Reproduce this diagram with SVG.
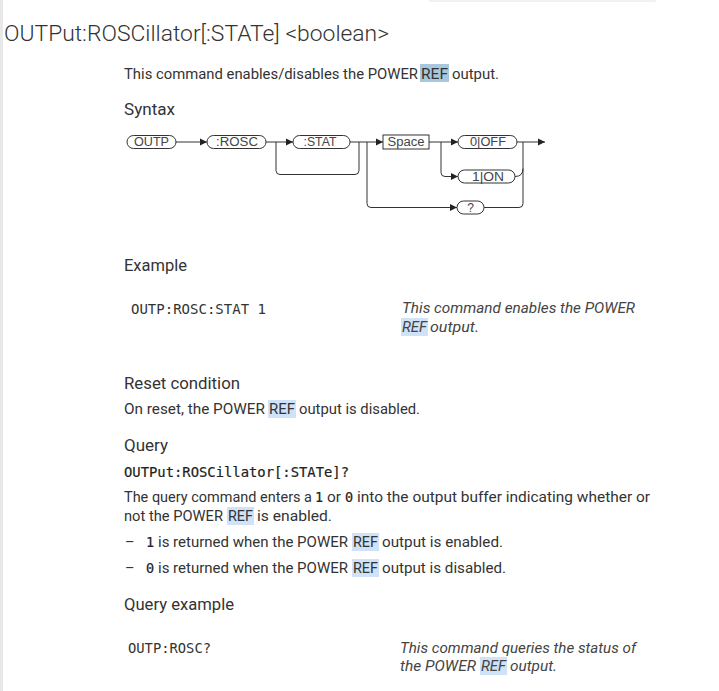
<svg xmlns="http://www.w3.org/2000/svg" width="719" height="691" viewBox="0 0 719 691">
<defs>
<style>
.t{font-family:Roboto,"Liberation Sans",sans-serif;font-size:14.5px;fill:#333}
.h{font-family:Roboto,"Liberation Sans",sans-serif;font-size:16px;fill:#333}
.i{font-family:Roboto,"Liberation Sans",sans-serif;font-size:14.5px;fill:#444;font-style:italic}
.m{font-family:"DejaVu Sans Mono","Liberation Mono",monospace;font-size:13.5px;fill:#333}
.mb{font-family:"DejaVu Sans Mono","Liberation Mono",monospace;font-size:13.5px;fill:#222;stroke:#222;stroke-width:0.2}
.hl{fill:#cfe2f7}
.hl1{fill:#a9c7dc}
.pill{fill:#fff;stroke:#333;stroke-width:1}
.pt{font-family:"Liberation Sans",Arial,sans-serif;font-size:12px;fill:#444;text-anchor:middle}
.ln{fill:none;stroke:#333;stroke-width:1}
</style>
<marker id="arr" markerWidth="7" markerHeight="8" refX="7" refY="4" orient="auto" markerUnits="userSpaceOnUse">
<path d="M0,0.5 L7,4 L0,7.5 Z" fill="#222"/>
</marker>
</defs>
<rect width="719" height="691" fill="#fff"/>
<rect x="0" y="0" width="3" height="691" fill="#e8e8e8"/>
<rect x="430" y="-10" width="225" height="11" fill="#fff" stroke="#e4e4e4" stroke-width="1"/>

<text class="h" x="4" y="41" style="font-size:22px;font-weight:300" textLength="385" lengthAdjust="spacingAndGlyphs">OUTPut:ROSCillator[:STATe] &lt;boolean&gt;</text>

<rect class="hl1" x="420" y="64" width="29" height="18"/>
<text class="t" x="124" y="79" textLength="294" lengthAdjust="spacingAndGlyphs">This command enables/disables the POWER</text>
<text class="t" x="421" y="79" textLength="27" lengthAdjust="spacingAndGlyphs">REF</text>
<text class="t" x="452" y="79" textLength="47" lengthAdjust="spacingAndGlyphs">output.</text>

<text class="h" x="124" y="115" textLength="51" lengthAdjust="spacingAndGlyphs">Syntax</text>

<g id="connectors">
<line class="ln" x1="176" y1="142" x2="207" y2="142" marker-end="url(#arr)"/>
<line class="ln" x1="266" y1="142" x2="293" y2="142" marker-end="url(#arr)"/>
<path class="ln" d="M276,142 V170.5 Q276,174.5 280,174.5 H355 Q359,174.5 359,170.5 V142"/>
<line class="ln" x1="350" y1="142" x2="383" y2="142" marker-end="url(#arr)"/>
<path class="ln" d="M367,142 V203.5 Q367,207.5 371,207.5 H457" marker-end="url(#arr)"/>
<path class="ln" d="M484,207.5 H519 Q523,207.5 523,203.5 V142"/>
<line class="ln" x1="429" y1="142" x2="458" y2="142" marker-end="url(#arr)"/>
<path class="ln" d="M441,142 V172.5 Q441,176.5 445,176.5 H458" marker-end="url(#arr)"/>
<path class="ln" d="M515,176.5 Q523,176.5 523,168.5"/>
<line class="ln" x1="517" y1="142" x2="545" y2="142" marker-end="url(#arr)"/>
</g>
<g id="node-outp"><rect class="pill" x="127" y="135.5" width="49" height="13" rx="6.5"/><text class="pt" x="151.5" y="146.3" textLength="35" lengthAdjust="spacingAndGlyphs">OUTP</text></g>
<g id="node-rosc"><rect class="pill" x="207" y="135.5" width="59" height="13" rx="6.5"/><text class="pt" x="237" y="146.3" textLength="42" lengthAdjust="spacingAndGlyphs">:ROSC</text></g>
<g id="node-stat"><rect class="pill" x="293" y="135.5" width="57" height="13" rx="6.5"/><text class="pt" x="320" y="146.3" textLength="33" lengthAdjust="spacingAndGlyphs">:STAT</text></g>
<g id="node-space"><rect class="pill" x="383" y="135" width="46" height="14"/><text class="pt" x="406" y="146.3" textLength="37" lengthAdjust="spacingAndGlyphs">Space</text></g>
<g id="node-off"><rect class="pill" x="458" y="135.5" width="59" height="13" rx="6.5"/><text class="pt" x="488" y="146.3" textLength="36" lengthAdjust="spacingAndGlyphs">0|OFF</text></g>
<g id="node-on"><rect class="pill" x="458" y="170" width="57" height="13" rx="6.5"/><text class="pt" x="488" y="180.8" textLength="32" lengthAdjust="spacingAndGlyphs">1|ON</text></g>
<g id="node-query"><rect class="pill" x="457" y="201" width="27" height="13" rx="6.5"/><text class="pt" x="470.5" y="211.8">?</text></g>

<text class="h" x="124" y="271" textLength="63" lengthAdjust="spacingAndGlyphs">Example</text>
<text class="m" x="131" y="314" textLength="135" lengthAdjust="spacingAndGlyphs">OUTP:ROSC:STAT 1</text>
<text class="i" x="402" y="313" textLength="233" lengthAdjust="spacingAndGlyphs">This command enables the POWER</text>
<rect class="hl" x="401" y="318" width="27" height="18"/>
<text class="i" x="402" y="332" textLength="25" lengthAdjust="spacingAndGlyphs">REF</text>
<text class="i" x="430" y="332" textLength="49" lengthAdjust="spacingAndGlyphs">output.</text>

<text class="h" x="124" y="389" textLength="116" lengthAdjust="spacingAndGlyphs">Reset condition</text>
<rect class="hl" x="268" y="400" width="28" height="18"/>
<text class="t" x="124" y="414" textLength="141" lengthAdjust="spacingAndGlyphs">On reset, the POWER</text>
<text class="t" x="269" y="414" textLength="26" lengthAdjust="spacingAndGlyphs">REF</text>
<text class="t" x="299" y="414" textLength="121" lengthAdjust="spacingAndGlyphs">output is disabled.</text>

<text class="h" x="124" y="451" textLength="44" lengthAdjust="spacingAndGlyphs">Query</text>
<text class="mb" x="124" y="477" textLength="225" lengthAdjust="spacingAndGlyphs">OUTPut:ROSCillator[:STATe]?</text>

<text class="t" x="124" y="502" textLength="188" lengthAdjust="spacingAndGlyphs">The query command enters a</text>
<text class="mb" x="315" y="502">1</text>
<text class="t" x="327" y="502" textLength="14" lengthAdjust="spacingAndGlyphs">or</text>
<text class="mb" x="345" y="502">0</text>
<text class="t" x="357" y="502" textLength="293" lengthAdjust="spacingAndGlyphs">into the output buffer indicating whether or</text>
<rect class="hl" x="227" y="507" width="27" height="18"/>
<text class="t" x="124" y="521" textLength="99" lengthAdjust="spacingAndGlyphs">not the POWER</text>
<text class="t" x="228" y="521" textLength="25" lengthAdjust="spacingAndGlyphs">REF</text>
<text class="t" x="257" y="521" textLength="75" lengthAdjust="spacingAndGlyphs">is enabled.</text>

<text class="t" x="125" y="547">–</text>
<text class="mb" x="146" y="547">1</text>
<rect class="hl" x="352" y="533" width="27" height="18"/>
<text class="t" x="158" y="547" textLength="190" lengthAdjust="spacingAndGlyphs">is returned when the POWER</text>
<text class="t" x="353" y="547" textLength="25" lengthAdjust="spacingAndGlyphs">REF</text>
<text class="t" x="382" y="547" textLength="121" lengthAdjust="spacingAndGlyphs">output is enabled.</text>

<text class="t" x="125" y="573">–</text>
<text class="mb" x="146" y="573">0</text>
<rect class="hl" x="352" y="559" width="27" height="18"/>
<text class="t" x="158" y="573" textLength="190" lengthAdjust="spacingAndGlyphs">is returned when the POWER</text>
<text class="t" x="353" y="573" textLength="25" lengthAdjust="spacingAndGlyphs">REF</text>
<text class="t" x="382" y="573" textLength="124" lengthAdjust="spacingAndGlyphs">output is disabled.</text>

<text class="h" x="124" y="610" textLength="110" lengthAdjust="spacingAndGlyphs">Query example</text>
<text class="m" x="128" y="653" textLength="83" lengthAdjust="spacingAndGlyphs">OUTP:ROSC?</text>
<text class="i" x="400" y="653" textLength="236" lengthAdjust="spacingAndGlyphs">This command queries the status of</text>
<rect class="hl" x="480" y="657" width="27" height="18"/>
<text class="i" x="400" y="671" textLength="76" lengthAdjust="spacingAndGlyphs">the POWER</text>
<text class="i" x="481" y="671" textLength="25" lengthAdjust="spacingAndGlyphs">REF</text>
<text class="i" x="510" y="671" textLength="47" lengthAdjust="spacingAndGlyphs">output.</text>
</svg>
